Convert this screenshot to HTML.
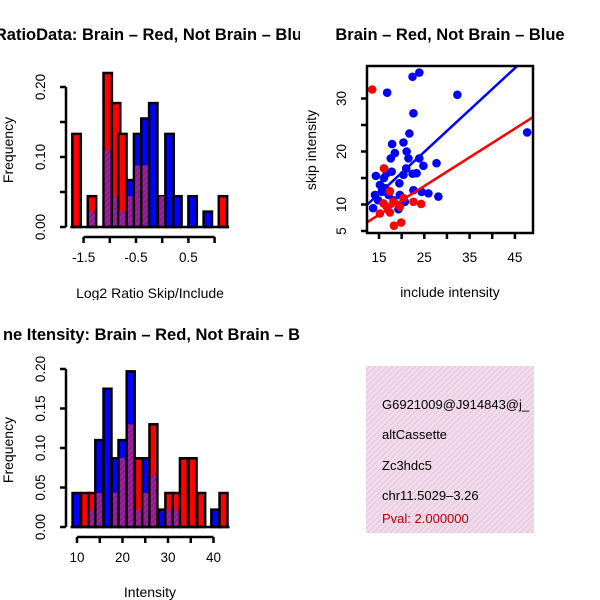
<!DOCTYPE html>
<html><head><meta charset="utf-8"><style>
body{margin:0;background:#fff}
svg{display:block;font-family:"Liberation Sans",sans-serif}
</style></head><body>
<svg id="c" width="600" height="600" viewBox="0 0 600 600">
<defs>
<pattern id="hatch" width="4" height="4" patternUnits="userSpaceOnUse" patternTransform="rotate(45)">
<rect width="4" height="4" fill="#a020a0"/><rect width="2" height="4" fill="#8a1a90"/></pattern>
<pattern id="pink" width="4" height="4" patternUnits="userSpaceOnUse" patternTransform="rotate(45)">
<rect width="4" height="4" fill="#f7d9ef"/><rect width="1.3" height="4" fill="#ddd0d6"/></pattern>
<clipPath id="cl1"><rect x="0" y="0" width="300" height="300"/></clipPath>
<clipPath id="cl3"><rect x="0" y="300" width="300" height="300"/></clipPath>
<clipPath id="scl"><rect x="367" y="66" width="166" height="167"/></clipPath>
</defs>
<g id="p1" clip-path="url(#cl1)"></g>
<g id="p2"></g>
<g id="p3" clip-path="url(#cl3)"></g>
<g>
<rect x="366" y="366" width="168" height="167" fill="url(#pink)"/>
<g font-size="13">
<text x="382" y="409">G6921009@J914843@j_</text>
<text x="382" y="439">altCassette</text>
<text x="382" y="470">Zc3hdc5</text>
<text x="382" y="500">chr11.5029–3.26</text>
<text x="382" y="523" fill="#b00000">Pval: 2.000000</text>
</g></g>
</svg>
<script>
// Histogram 1: log2 ratio
const h1Centers=[-1.635,-1.34,-1.04,-0.88,-0.76,-0.595,-0.46,-0.32,-0.17,0.0,0.14,0.29,0.58,0.87,1.16];
const h1Red=[0.133,0.044,0.22,0.177,0.133,0.044,0.088,0.088,0,0.044,0,0,0,0,0.044];
const h1Blue=[0,0.022,0.11,0.044,0.022,0.067,0.133,0.155,0.177,0.044,0.133,0.044,0.044,0.022,0];
const h1XTicks=[-1.5,-1,-0.5,0,0.5,1];
const h1XLabels=["-1.5","","-0.5","","0.5",""];
const h1YTicks=[0,0.05,0.1,0.15,0.2];
const h1YLabels=["0.00","","0.10","","0.20"];
// Histogram 2: intensity
const h2Centers=[9.9,11.76,13.4,14.9,16.7,18.5,20,21.8,23.6,25.2,26.8,28.7,30.3,31.9,33.5,35.4,37.3,40.4,42.2];
const h2Red=[0,0.043,0.043,0.043,0,0.043,0.087,0.13,0.087,0.043,0.13,0,0.043,0.043,0.087,0.087,0.043,0,0.043];
const h2Blue=[0.043,0,0.022,0.11,0.175,0.087,0.11,0.197,0.022,0.087,0.065,0.022,0.022,0.022,0,0,0,0.022,0];
const h2XTicks=[10,15,20,25,30,35,40];
const h2XLabels=["10","","20","","30","","40"];
const h2YTicks=[0,0.05,0.1,0.15,0.2];
const h2YLabels=["0.00","0.05","0.10","0.15","0.20"];
// Scatter
const blueX=[22.4,23.9,16.8,32.3,22.6,21.7,47.7,17.9,20.4,21.1,17.6,18.5,21.5,23.9,24.8,27.7,21.0,14.3,16.7,17.8,16.1,15.2,16.3,15.6,14.1,17.1,19.5,20.4,22.4,23.3,22.6,24.4,25.9,28.1,19.6,20.7,13.7,19.3,14.8,18.2];
const blueY=[34.1,34.9,31.1,30.7,27.2,23.4,23.6,21.4,21.7,20.0,18.7,19.7,18.7,18.7,17.3,17.8,16.8,15.4,15.9,16.2,15.0,13.7,13.1,12.4,11.8,11.8,14.0,15.6,15.8,15.9,12.7,12.4,12.1,11.5,11.8,10.5,9.3,9.1,10.8,10.8];
const redX=[13.5,16.1,17.4,16.0,15.2,17.4,18.2,20.4,22.6,24.3,18.3,19.9,19.6,16.7];
const redY=[31.7,16.8,12.5,10.2,8.3,8.5,10.5,11.2,10.5,10.1,6.0,6.6,9.6,9.6];
const blueFit=[0.18,0.79];
const redFit=[-0.07,0.542];
const sXTicks=[15,20,25,30,35,40,45];
const sXLabels=["15","","25","","35","","45"];
const sYTicks=[5,10,15,20,25,30];
const sYLabels=["5","10","","20","","30"];

const NS="http://www.w3.org/2000/svg";
function mk(parent,tag,attrs){const e=document.createElementNS(NS,tag);for(const k in attrs)e.setAttribute(k,attrs[k]);parent.appendChild(e);return e;}
function txt(parent,x,y,s,attrs){const e=mk(parent,'text',Object.assign({x:x,y:y},attrs||{}));e.textContent=s;return e;}

function hist(g,o){
  const xs=v=>o.x0px+(v-o.x0)*o.kx, ys=v=>o.y0px-v*o.ky;
  const hw=o.bw/2;
  for(let i=0;i<o.c.length;i++){
    const r=o.r[i],b=o.b[i],mx=Math.max(r,b),mn=Math.min(r,b);
    const x1=xs(o.c[i]-hw),x2=xs(o.c[i]+hw);
    const top=mx>0?(r>=b?'#ff0000':'#0000ff'):null;
    if(!top)continue;
    const bar=mk(g,'rect',{x:x1,y:ys(mx),width:x2-x1,height:ys(0)-ys(mx),fill:top,stroke:'#000','stroke-width':2.5});
    
    
    if(mn>0){const p=mk(g,'rect',{x:x1+1.2,y:ys(mn),width:x2-x1-2.4,height:ys(0)-ys(mn)-1.2,fill:'url(#hatch)'});
      
      }
  }
  const ya=mk(g,'g',{});
  
  
  mk(ya,'line',{x1:o.yax,x2:o.yax,y1:ys(o.yt[0]),y2:ys(o.yt[o.yt.length-1]),stroke:'#000','stroke-width':2.5});
  o.yt.forEach((t,i)=>{mk(ya,'line',{x1:o.yax,x2:o.yax-6,y1:ys(t),y2:ys(t),stroke:'#000','stroke-width':2.5});
    if(o.yl[i])txt(ya,o.yax-21,ys(t),o.yl[i],{'font-size':13.5,'text-anchor':'middle',transform:`rotate(-90 ${o.yax-21} ${ys(t)})`});});
  const xa=mk(g,'g',{});
  
  
  mk(xa,'line',{x1:xs(o.xt[0]),x2:xs(o.xt[o.xt.length-1]),y1:o.xay,y2:o.xay,stroke:'#000','stroke-width':2.5});
  o.xt.forEach((t,i)=>{mk(xa,'line',{x1:xs(t),x2:xs(t),y1:o.xay,y2:o.xay+6,stroke:'#000','stroke-width':2.5});
    if(o.xl[i])txt(xa,xs(t),o.xay+25,o.xl[i],{'font-size':13.5,'text-anchor':'middle'});});
  mk(g,'line',{x1:xs(o.c[0]-hw)-2,x2:xs(o.c[o.c.length-1]+hw)+2,y1:o.y0px,y2:o.y0px,stroke:'#000','stroke-width':2.5});
  const t=txt(g,o.title[1],o.title[2],o.title[0],{'font-size':16.5,'font-weight':'bold','text-anchor':'end'});
  
  
  const xl=txt(g,o.xlab[1],o.xlab[2],o.xlab[0],{'font-size':14,'text-anchor':'middle'});
  
  
  const yl=txt(g,13,o.ylabY,'Frequency',{'font-size':14,'text-anchor':'middle',transform:`rotate(-90 13 ${o.ylabY})`});
  
  
}
hist(document.getElementById('p1'),{c:h1Centers,r:h1Red,b:h1Blue,bw:0.16,x0:-0.5,x0px:136,kx:52.4,y0px:227,ky:700,
  xt:h1XTicks,xl:h1XLabels,yt:h1YTicks,yl:h1YLabels,yax:66,xay:237,
  title:['RatioData: Brain – Red, Not Brain – Blu',302,40],xlab:['Log2 Ratio Skip/Include',150,298],ylabY:150});
hist(document.getElementById('p3'),{c:h2Centers,r:h2Red,b:h2Blue,bw:1.75,x0:10,x0px:77,kx:4.55,y0px:527,ky:790,
  xt:h2XTicks,xl:h2XLabels,yt:h2YTicks,yl:h2YLabels,yax:66,xay:537,
  title:['ne Itensity: Brain – Red, Not Brain – B',300,340],xlab:['Intensity',150,597],ylabY:450});

(function(){
  const g=document.getElementById('p2');
  const xs=v=>379+(v-15)*4.53, ys=v=>231-(v-5)*5.3;
  const pts=mk(g,'g',{'clip-path':'url(#scl)'});
  blueX.forEach((x,i)=>{const c=mk(pts,'circle',{cx:xs(x),cy:ys(blueY[i]),r:4.3,fill:'#0000ff'});
    
    });
  redX.forEach((x,i)=>{const c=mk(pts,'circle',{cx:xs(x),cy:ys(redY[i]),r:4.3,fill:'#ff0000'});
    
    });
  const bl=mk(pts,'line',{x1:xs(10),y1:ys(blueFit[0]+blueFit[1]*10),x2:xs(55),y2:ys(blueFit[0]+blueFit[1]*55),stroke:'#0000ff','stroke-width':2.5});
  
  
  const rl=mk(pts,'line',{x1:xs(10),y1:ys(redFit[0]+redFit[1]*10),x2:xs(55),y2:ys(redFit[0]+redFit[1]*55),stroke:'#ff0000','stroke-width':2.5});
  
  
  const box=mk(g,'rect',{x:367,y:66,width:166,height:167,fill:'none',stroke:'#000','stroke-width':2.5});
  
  
  sXTicks.forEach((t,i)=>{mk(g,'line',{x1:xs(t),x2:xs(t),y1:233,y2:239,stroke:'#000','stroke-width':2.5});
    if(sXLabels[i])txt(g,xs(t),262,sXLabels[i],{'font-size':13.5,'text-anchor':'middle'});});
  sYTicks.forEach((t,i)=>{mk(g,'line',{x1:367,x2:361,y1:ys(t),y2:ys(t),stroke:'#000','stroke-width':2.5});
    if(sYLabels[i])txt(g,346,ys(t),sYLabels[i],{'font-size':13.5,'text-anchor':'middle',transform:`rotate(-90 346 ${ys(t)})`});});
  const t=txt(g,450,40,'Brain – Red, Not Brain – Blue',{'font-size':16.5,'font-weight':'bold','text-anchor':'middle'});
  
  
  const xl=txt(g,450,297,'include intensity',{'font-size':14,'text-anchor':'middle'});
  
  
  const yl=txt(g,316,150,'skip intensity',{'font-size':14,'text-anchor':'middle',transform:'rotate(-90 316 150)'});
  
  
})();
</script>
</body></html>
